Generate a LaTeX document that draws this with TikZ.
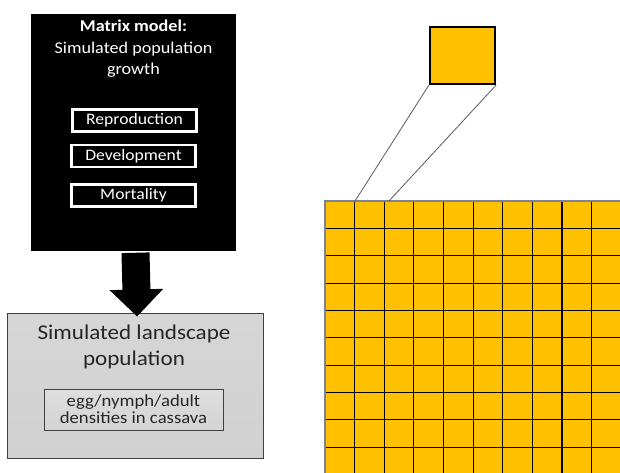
\documentclass[tikz,border=0pt]{standalone}
\usepackage{fontspec}
\usepackage{graphicx}
\setmainfont{Carlito}
\usetikzlibrary{arrows.meta,shadows}
\definecolor{gold}{HTML}{FFC000}
\definecolor{ink}{HTML}{262626}
\definecolor{gline}{HTML}{000000}
\definecolor{gedge}{HTML}{7A8494}
\newcommand{\wtxt}[1]{\scalebox{1.1}[1]{#1}}
\begin{document}
\begin{tikzpicture}[x=1pt,y=-1pt,
  modelbox/.style={fill=black, draw=white, line width=1.5pt, minimum width=207pt, minimum height=239pt, inner sep=0pt,
    drop shadow={opacity=0.35, shadow xshift=1.2pt, shadow yshift=-1.2pt}},
  stepbox/.style={draw=white, line width=2.4pt, fill=black, text=white, minimum width=124pt, minimum height=22pt,
    inner sep=0pt, font=\fontsize{16}{18}\selectfont},
  landbox/.style={draw=black!75, line width=1pt, top color=black!16, middle color=black!6, bottom color=black!18,
    minimum width=256pt, minimum height=145pt, inner sep=0pt,
    drop shadow={opacity=0.3, shadow xshift=1.2pt, shadow yshift=-1.2pt}},
  densbox/.style={draw=black!75, line width=0.9pt, top color=black!13, middle color=black!3, bottom color=black!17,
    minimum width=179pt, minimum height=41pt, inner sep=0pt, text=ink, align=center,
    font=\fontsize{17}{18}\selectfont,
    drop shadow={opacity=0.3, shadow xshift=1pt, shadow yshift=-1pt}},
  wtext/.style={text=white, inner sep=0pt, anchor=base, font=\fontsize{16.5}{20}\selectfont},
  ltext/.style={text=ink, inner sep=0pt, anchor=base, font=\fontsize{21}{26}\selectfont},
  cellbox/.style={fill=gold, draw=black, line width=2.2pt, minimum width=65pt, minimum height=57pt, inner sep=0pt},
  gridline/.style={draw=gline, line width=1.1pt},
  zoomline/.style={draw=black!65, line width=0.8pt},
  fatarrow/.style={line width=28pt, -{Triangle[length=27pt,width=52pt]}, shorten >=-4pt}
]
\useasboundingbox (0,0) rectangle (620,472);

% matrix model box
\node[modelbox] (model) at (133.5,132.5) {};
\node[wtext, font=\fontsize{16.5}{20}\selectfont\bfseries] (t1) at (133.5,31) {\wtxt{Matrix model:}};
\node[wtext] (t2) at (133.5,53) {\wtxt{Simulated population}};
\node[wtext] (t3) at (133.5,74) {\wtxt{growth}};
\node[stepbox] (rep) at (134.5,120.5) {\wtxt{Reproduction}};
\node[stepbox] (dev) at (133.5,156) {\wtxt{Development}};
\node[stepbox] (mort) at (133.5,195.5) {\wtxt{Mortality}};

% landscape box
\node[landbox] (land) at (135,385.5) {};
\node[ltext] (l1) at (134,339) {\wtxt{Simulated landscape}};
\node[ltext] (l2) at (134,365) {\wtxt{population}};
\node[densbox] (dens) at (133.5,409.5) {\wtxt{egg/nymph/adult}\\[-1pt]\wtxt{densities in cassava}};

% fat arrow
\draw[fatarrow] ([xshift=2pt]model.south) -- ([xshift=2pt]land.north);

% grid
\begin{scope}
\clip (0,0) rectangle (620,472);
\fill[gold] (325,201) rectangle (640,490);
\foreach \k in {1,...,10} {
  \draw[gridline] ({325+29.62*\k},201) -- ({325+29.62*\k},490);
  \draw[gridline] (325,{201+27.35*\k}) -- (640,{201+27.35*\k});
}
\draw[draw=gedge, line width=1.4pt] (325,490) -- (325,201) -- (640,201);
\end{scope}
\coordinate (g0) at (355,201);
\coordinate (g1) at (389,201);

% zoomed cell
\node[cellbox] (cell) at (462.5,55.5) {};
\draw[zoomline] (cell.south west) -- (g0);
\draw[zoomline] (cell.south east) -- (g1);
\end{tikzpicture}
\end{document}
